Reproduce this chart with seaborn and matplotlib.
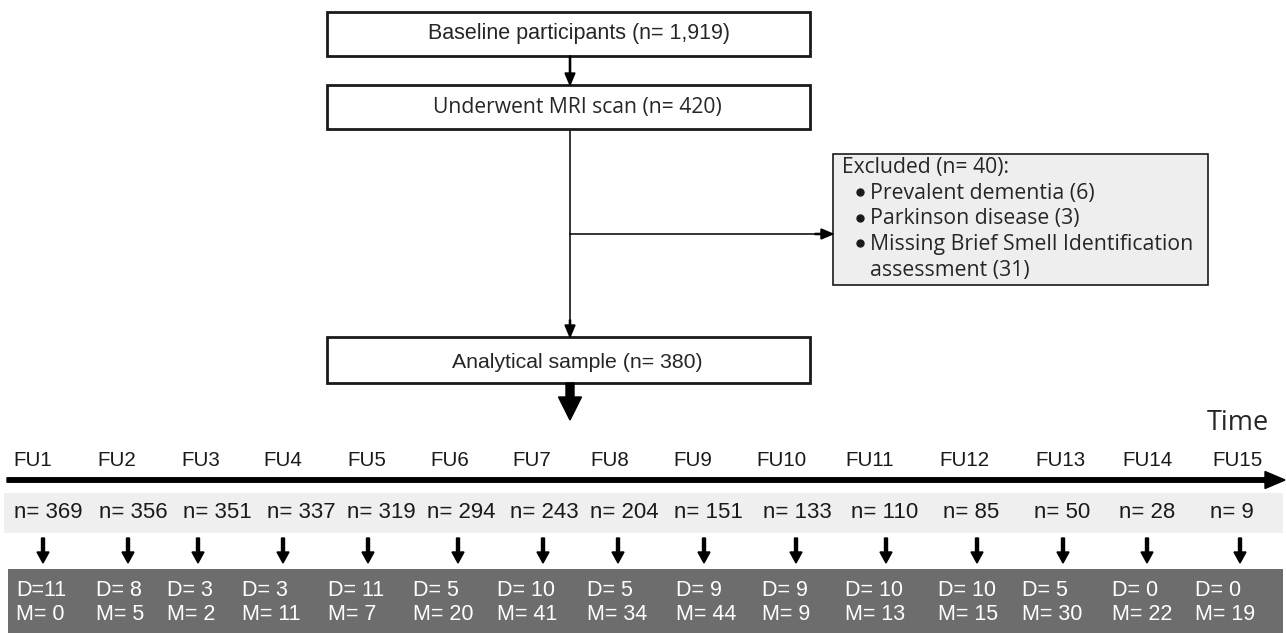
import numpy as np
import seaborn as sns
from matplotlib import pyplot as plt
from matplotlib.patches import Rectangle, FancyArrow

# flow counts
baseline_n = "1,919"
mri_n = 420
excluded_n = 40
excluded_items = ["Prevalent dementia (6)", "Parkinson disease (3)",
                  "Missing Brief Smell Identification", "assessment (31)"]
analytic_n = 380

# follow-up waves
fu_labels = ["FU1", "FU2", "FU3", "FU4", "FU5", "FU6", "FU7", "FU8",
             "FU9", "FU10", "FU11", "FU12", "FU13", "FU14", "FU15"]
n_values = [369, 356, 351, 337, 319, 294, 243, 204, 151, 133, 110, 85, 50, 28, 9]
d_values = [11, 8, 3, 3, 11, 5, 10, 5, 9, 9, 10, 10, 5, 0, 0]
m_values = [0, 5, 2, 11, 7, 20, 41, 34, 44, 9, 13, 15, 30, 22, 19]

# layout (pixel positions of each column)
fu_x = [33, 117, 201, 283, 367, 450, 532, 610, 693, 782, 870, 964, 1060, 1148, 1237]
arrow_x = [43, 128, 198, 283, 368, 458, 543, 618, 704, 796, 886, 977, 1063, 1147, 1240]
n_x = [48, 133, 217, 301, 381, 461, 544, 624, 708, 797, 885, 971, 1062, 1147, 1232]
dm_x = [16, 96, 167, 242, 328, 413, 497, 587, 676, 762, 845, 938, 1022, 1112, 1195]

sns.set_theme(style="white")
arial = ["Liberation Sans", "DejaVu Sans"]
opensans = ["Open Sans", "DejaVu Sans"]

fig = plt.figure(figsize=(12.86, 6.33), dpi=100)
ax = fig.add_axes([0, 0, 1, 1])
ax.set_xlim(0, 1286)
ax.set_ylim(633, 0)
ax.axis("off")

cx = 570


def box(x0, y0, x1, y1, fc="white", lw=2.0):
    ax.add_patch(Rectangle((x0, y0), x1 - x0, y1 - y0, facecolor=fc,
                           edgecolor="#1a1a1a", linewidth=lw, zorder=3))


def thin_arrow(x0, y0, x1, y1):
    ax.add_patch(FancyArrow(x0, y0, x1 - x0, y1 - y0, width=1.2, head_width=10,
                            head_length=12, length_includes_head=True,
                            color="black", zorder=4))


# top boxes
box(327, 12, 810, 56)
ax.text(cx + 9, 34, f"Baseline participants (n= {baseline_n})", ha="center",
        va="center", fontsize=15.5, family=arial, zorder=5)
box(327, 85, 810, 129)
ax.text(cx + 7, 107, f"Underwent MRI scan (n= {mri_n})", ha="center",
        va="center", fontsize=15.2, family=opensans, zorder=5)
box(327, 337, 810, 383)
ax.text(cx + 7, 362, f"Analytical sample (n= {analytic_n})", ha="center",
        va="center", fontsize=15.3, family=arial, zorder=5)

thin_arrow(cx, 56, cx, 85)
ax.plot([cx, cx], [129, 326], color="black", lw=1.1, zorder=2)
thin_arrow(cx, 320, cx, 337)
ax.plot([cx, 822], [234, 234], color="black", lw=1.1, zorder=2)
thin_arrow(815, 234, 833, 234)

# excluded box
box(833, 154, 1208, 285, fc="#eeeeee", lw=1.2)
ax.text(842, 167, f"Excluded (n= {excluded_n}):", ha="left", va="center",
        fontsize=15.2, family=opensans, zorder=5)
for i, item in enumerate(excluded_items):
    y = 193 + i * 25.7
    if i < 3:
        ax.plot(860, y - 1, "o", ms=5, color="#1a1a1a", zorder=5)
    ax.text(870, y, item, ha="left", va="center", fontsize=15.3,
            family=opensans, zorder=5)

# big arrow into the timeline
ax.add_patch(FancyArrow(cx, 383, 0, 37, width=8, head_width=23, head_length=23,
                        length_includes_head=True, color="black", zorder=4))

# timeline
ax.text(1238, 423, "Time", ha="center", va="center", fontsize=19.5,
        family=opensans)
ax.add_patch(FancyArrow(7, 480, 1278, 0, width=4.5, head_width=17,
                        head_length=20, length_includes_head=True,
                        color="black", zorder=4))

ax.add_patch(Rectangle((4, 493), 1279, 40, facecolor="#efefef",
                       edgecolor="none", zorder=1))
ax.add_patch(Rectangle((8, 569), 1275, 64, facecolor="#6d6d6d",
                       edgecolor="none", zorder=1))

for i in range(len(fu_labels)):
    ax.text(fu_x[i], 461, fu_labels[i], ha="center", va="center",
            fontsize=14.8, family=arial, color="#1a1a1a")
    ax.text(n_x[i], 513, f"n= {n_values[i]}", ha="center", va="center",
            fontsize=16, family=arial, color="#1a1a1a", zorder=3)
    ax.add_patch(FancyArrow(arrow_x[i], 538, 0, 25, width=3, head_width=12,
                            head_length=11, length_includes_head=True,
                            color="black", zorder=4))
    d_txt = f"D={d_values[i]}" if i == 0 else f"D= {d_values[i]}"
    ax.text(dm_x[i], 590, d_txt, ha="left", va="center", fontsize=15.5,
            family=arial, color="white", zorder=3)
    ax.text(dm_x[i], 615, f"M= {m_values[i]}", ha="left", va="center",
            fontsize=15.5, family=arial, color="white", zorder=3)

fig.savefig("out.png", dpi=100)
